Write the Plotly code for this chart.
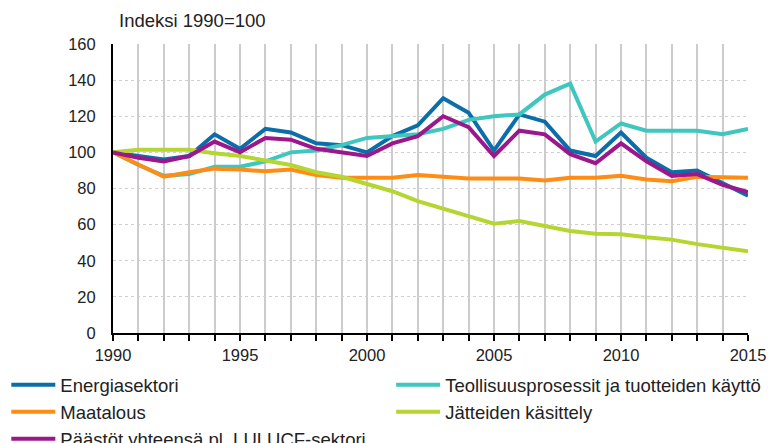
import plotly.graph_objects as go

years = list(range(1990, 2016))

energia = [100, 98, 96, 98, 110, 102, 113, 111, 105, 104, 100, 109, 115,
           130, 122, 101, 121, 117, 101, 98, 111, 97, 89, 90, 83, 76]
teollisuus = [100, 93, 87, 88, 92, 92, 95, 100, 101, 104, 108, 109, 110,
              113, 118, 120, 121, 132, 138, 106, 116, 112, 112, 112, 110, 113]
maatalous = [100, 93, 86.5, 89, 91, 90.5, 89.5, 90.5, 87.5, 86, 86, 86, 87.5,
             86.5, 85.5, 85.5, 85.5, 84.5, 86, 86, 87, 85, 84, 86.5, 86, 86]
jatteet = [100, 101.5, 101.5, 101.5, 99.5, 98, 95.5, 93, 89, 86.5, 82.5, 78.5, 73,
           69, 65, 60.5, 62, 59, 56.5, 55, 54.7, 53, 51.7, 49.2, 47, 45.3]
yhteensa = [100, 97, 95, 98, 106, 100, 108, 107, 102, 100, 98, 105, 109,
            120, 114, 98, 112, 110, 99, 94, 105, 95, 87, 88, 82, 78]

series = [
    ("Energiasektori", energia, "#0b6ea8", "legend"),
    ("Teollisuusprosessit ja tuotteiden käyttö", teollisuus, "#3ec6bf", "legend2"),
    ("Maatalous", maatalous, "#ff8c14", "legend"),
    ("Jätteiden käsittely", jatteet, "#b5d631", "legend2"),
    ("Päästöt yhteensä pl. LULUCF-sektori", yhteensa, "#9c178c", "legend"),
]

x_tickvals = years
x_ticktext = [str(y) if y % 5 == 0 else "" for y in years]
y_tickvals = list(range(0, 161, 20))

FONT = "Liberation Sans, Arial, sans-serif"
TXT = "#222222"

# the page body has an 8px default margin; shift the drawing up/left by it
OFF = 8

fig = go.Figure()
for name, vals, col, lg in series:
    fig.add_trace(go.Scatter(x=years, y=vals, name=name, mode="lines",
                             line=dict(color=col, width=4), legend=lg))

legend_common = dict(orientation="v", xanchor="left", yanchor="top",
                     tracegroupgap=0, itemwidth=44,
                     font=dict(family=FONT, size=18.5, color=TXT),
                     bgcolor="rgba(0,0,0,0)", borderwidth=0)

fig.update_layout(
    width=774 - OFF, height=443 - OFF,
    margin=dict(l=113 - OFF, r=26, t=44 - OFF, b=110, autoexpand=False),
    paper_bgcolor="white", plot_bgcolor="white",
    font=dict(family=FONT, size=17, color=TXT),
    showlegend=True,
    legend=dict(x=-0.168, y=-0.115, **legend_common),
    legend2=dict(x=0.438, y=-0.115, **legend_common),
    annotations=[dict(text="Indeksi 1990=100", xref="paper", yref="paper",
                      x=0.006, y=1.083, xanchor="left", yanchor="middle",
                      showarrow=False, font=dict(family=FONT, size=18.5, color=TXT))],
)
fig.update_xaxes(range=[1990, 2015], tickvals=x_tickvals, ticktext=x_ticktext,
                 ticks="outside", ticklen=6, tickcolor="black", tickwidth=1.5,
                 showline=True, linecolor="black", linewidth=2,
                 showgrid=True, gridcolor="#cccccc", gridwidth=1.5,
                 zeroline=False, tickfont=dict(size=16.5))
fig.update_yaxes(range=[0, 160], tickvals=y_tickvals,
                 showline=True, linecolor="black", linewidth=2,
                 showgrid=True, gridcolor="#cfcfcf", gridwidth=1, griddash="dot",
                 zeroline=False, ticks="", ticklabelstandoff=12, tickfont=dict(size=16.5))

fig.write_html("out.html")
